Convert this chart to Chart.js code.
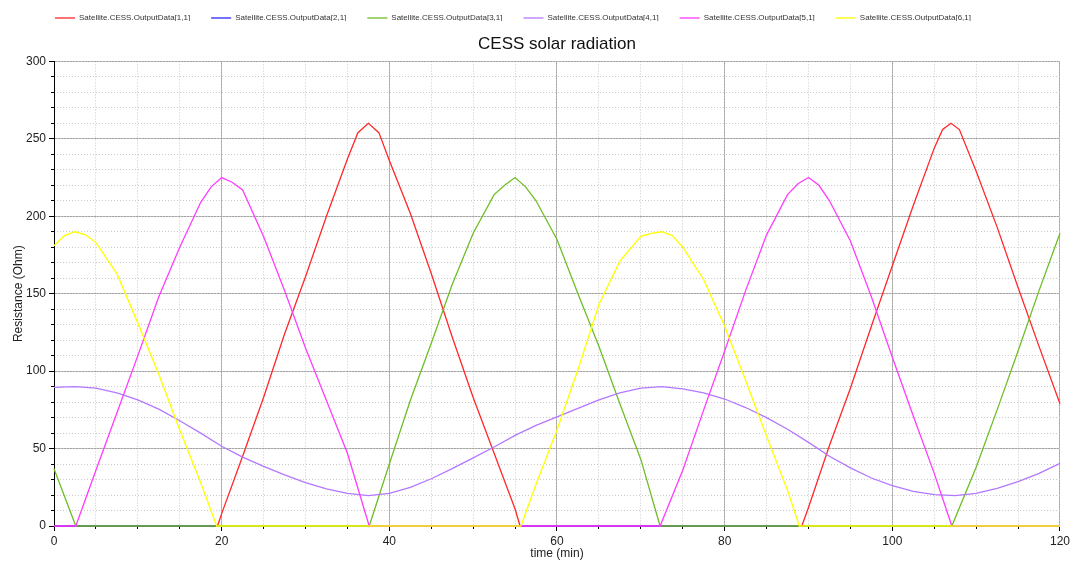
<!DOCTYPE html>
<html>
<head>
<meta charset="utf-8">
<title>CESS solar radiation</title>
<script src="https://cdn.jsdelivr.net/npm/chart.js@4.4.1/dist/chart.umd.min.js"></script>
<style>
  html, body { margin: 0; padding: 0; background: #fff; }
  canvas { display: block; }
</style>
</head>
<body>
<canvas id="cessChart" width="1073" height="562"></canvas>
<script>
// each output has its own time points (min): flat zero stretches only need their ends
const out11Time = [0, 19.5, 20, 22.5, 25, 27.5, 30, 32.5, 35, 36.25, 37.5, 38.75, 40, 42.5, 45, 47.5, 50, 52.5, 55, 55.6,
  89.2, 90, 92.5, 95, 97.5, 100, 102.5, 105, 106, 107, 108, 110, 112.5, 115, 117.5, 120];
const out11 = [0, 0, 8, 45, 83, 124, 161, 200, 237, 254, 260, 254, 236, 202, 163, 122, 83, 47, 11, 0,
  0, 12, 52, 89, 129, 168, 207, 244, 256, 260, 256, 229, 193, 154, 116, 79];

const out21Time = [0, 120];
const out21 = [0, 0];

const out31Time = [0, 2.6, 37.6, 40, 42.5, 45, 47.5, 50, 52.5, 53.75, 55, 56.25, 57.5, 60, 62.5, 65, 67.5, 70, 72.3,
  107.1, 110, 112.5, 115, 117.5, 120];
const out31 = [37, 0, 0, 40, 81, 118, 156, 189, 214, 220, 225, 219, 210, 185, 150, 116, 79, 43, 0,
  0, 38, 75, 113, 152, 189];

const out41Time = [0, 2.5, 5, 7.5, 10, 12.5, 15, 17.5, 20, 22.5, 25, 27.5, 30, 32.5, 35, 37.5, 40, 42.5, 45, 47.5, 50, 52.5, 55, 57.5,
  60, 62.5, 65, 67.5, 70, 72.5, 75, 77.5, 80, 82.5, 85, 87.5, 90, 92.5, 95, 97.5, 100, 102.5, 105, 107.5, 110, 112.5, 115, 117.5, 120];
const out41 = [89.5, 90, 89, 86, 81.5, 75.5, 68, 60, 51.5, 44.5, 38.5, 33, 28, 24, 21, 19.6, 21, 25, 30.5, 37, 44, 51, 58.5, 65,
  70.5, 76, 81.5, 86, 89, 90, 88.5, 86, 82, 76.5, 70, 62.5, 54, 45, 37.5, 31, 26, 22.3, 20.2, 19.6, 21, 24.3, 28.6, 34, 40.4];

const out51Time = [0, 2.6, 5, 7.5, 10, 12.5, 15, 17.5, 18.75, 20, 21.25, 22.5, 25, 27.5, 30, 32.5, 35, 37.6,
  72.3, 75, 77.5, 80, 82.5, 85, 87.5, 88.75, 90, 91.25, 92.5, 95, 97.5, 100, 102.5, 105, 107.1, 120];
const out51 = [0, 0, 36, 73, 110, 148, 180, 209, 219, 225, 222, 217, 187, 152, 115, 81, 47, 0,
  0, 36, 75, 113, 152, 188, 214, 221, 225, 220, 210, 184, 148, 109, 71, 34, 0, 0];

const out61Time = [0, 1.25, 2.5, 3.75, 5, 7.5, 10, 12.5, 15, 17.5, 19.4, 55.7, 57.5, 60, 62.5, 65, 67.5, 70, 71.25, 72.5,
  73.75, 75, 77.5, 80, 82.5, 85, 87.5, 88.9, 120];
const out61 = [181, 187.5, 190, 188, 183, 163, 131, 98, 62, 28, 0, 0, 27, 62, 101, 143, 171, 187, 189, 190,
  187.5, 180, 159, 129, 94, 58, 23, 0, 0];

const seriesNames = ['Satellite.CESS.OutputData[1,1]', 'Satellite.CESS.OutputData[2,1]', 'Satellite.CESS.OutputData[3,1]',
  'Satellite.CESS.OutputData[4,1]', 'Satellite.CESS.OutputData[5,1]', 'Satellite.CESS.OutputData[6,1]'];
const seriesTimes = [out11Time, out21Time, out31Time, out41Time, out51Time, out61Time];
const seriesValues = [out11, out21, out31, out41, out51, out61];
const seriesColors = ['rgb(255,40,40)', 'rgb(40,40,255)', 'rgb(110,190,40)', 'rgb(180,120,255)', 'rgb(255,60,255)', 'rgb(255,255,0)'];

const FONT = 'Liberation Sans, Arial, sans-serif';
Chart.defaults.font.family = FONT;
Chart.defaults.color = '#333';

const datasets = seriesValues.map((vals, i) => ({
    label: seriesNames[i],
    data: seriesTimes[i].map((t, j) => ({ x: t, y: vals[j] })),
    borderColor: seriesColors[i],
    backgroundColor: seriesColors[i],
    borderWidth: 1.3,
    pointRadius: 0,
    tension: 0,
    clip: false,
    order: seriesValues.length - i   // later series drawn on top
}));

// nudge the legend to where the original puts it
const legendShift = {
    id: 'legendShift',
    afterLayout(chart) {
        const lg = chart.legend;
        lg.left -= 17; lg.right -= 17;
        lg.top -= 7; lg.bottom -= 7;
    }
};

new Chart(document.getElementById('cessChart').getContext('2d'), {
    type: 'line',
    data: { datasets: datasets },
    plugins: [legendShift],
    options: {
        responsive: false,
        animation: false,
        layout: { padding: { top: 0, right: 13, bottom: 0, left: 0 } },
        plugins: {
            legend: {
                position: 'top',
                weight: 1000,
                maxHeight: 28,
                labels: {
                    usePointStyle: true,
                    pointStyle: 'line',
                    pointStyleWidth: 20,
                    boxHeight: 8,
                    padding: 21,
                    color: '#333',
                    font: { size: 8 },
                    sort: (a, b) => a.datasetIndex - b.datasetIndex
                }
            },
            title: {
                display: true,
                text: 'CESS solar radiation',
                color: '#111',
                weight: 500,
                fullSize: false,
                font: { size: 17, weight: 'normal' },
                padding: { top: 6, bottom: 7 }
            },
            tooltip: { enabled: false }
        },
        scales: {
            x: {
                type: 'linear',
                position: 'bottom',
                min: 0, max: 120,
                afterFit: axis => { axis.height = 36; },
                ticks: { stepSize: 20, font: { size: 12 }, color: '#222', padding: 3, maxRotation: 0 },
                grid: { color: '#a4a4a4', tickColor: '#000', tickLength: 5 },
                border: { color: '#000', width: 1 },
                title: { display: true, text: 'time (min)', font: { size: 12 }, color: '#222', padding: { top: 0, bottom: 1 } }
            },
            xMinor: {
                type: 'linear',
                position: 'bottom',
                weight: -1,
                min: 0, max: 120,
                afterFit: axis => { axis.height = 0; },
                ticks: { stepSize: 5, display: false, autoSkip: false, maxTicksLimit: 100 },
                grid: { color: '#cacaca', tickColor: '#000', tickLength: 3 },
                border: { display: false, dash: [1, 2] }
            },
            y: {
                type: 'linear',
                position: 'left',
                min: 0, max: 300,
                afterFit: axis => { axis.width = 54; },
                ticks: { stepSize: 50, font: { size: 12 }, color: '#222', padding: 3 },
                grid: { color: '#a4a4a4', tickColor: '#000', tickLength: 5 },
                border: { color: '#000', width: 1 },
                title: { display: true, text: 'Resistance (Ohm)', font: { size: 12 }, color: '#222', padding: { top: 11, bottom: 0 } }
            },
            yMinor: {
                type: 'linear',
                position: 'left',
                weight: -1,
                min: 0, max: 300,
                afterFit: axis => { axis.width = 0; },
                ticks: { stepSize: 10, display: false, autoSkip: false, maxTicksLimit: 100 },
                grid: { color: '#cacaca', tickColor: '#000', tickLength: 3 },
                border: { display: false, dash: [1, 2] }
            }
        }
    }
});
</script>
</body>
</html>
